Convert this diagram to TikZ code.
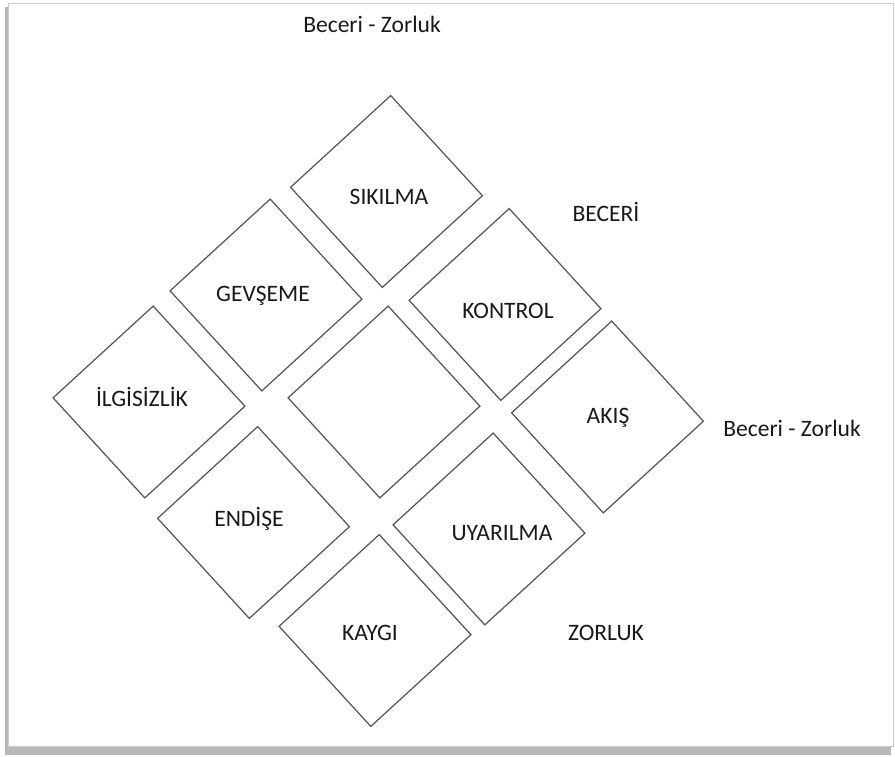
\documentclass[tikz,border=0pt]{standalone}
\usepackage{fontspec}
\setmainfont{Carlito}
\usetikzlibrary{shapes.geometric}
\begin{document}
\begin{tikzpicture}[every node/.style={font=\fontsize{13.4}{16}\selectfont, text=black!90}]
			% Define colors
			\definecolor{edge_grey}{RGB}{85, 85, 85}
			\definecolor{frame_line}{RGB}{205, 205, 205}
			\definecolor{frame_shadow}{RGB}{185, 185, 185}

			% Styles
			\tikzstyle{cell} = [regular polygon, regular polygon sides=4, shape border rotate=42.5, draw=edge_grey, line width=0.7pt, minimum size=3.84cm, inner sep=0pt]
			\tikzstyle{cell_text} = [inner sep=1pt]
			\tikzstyle{axis_text} = [inner sep=1pt]

			\useasboundingbox (0,0) rectangle (17.9,15.12);

			% Frame and its shadow
			\fill[frame_shadow] (0.1,0.02) rectangle (17.82,14.98);
			\draw[frame_line, fill=white] (0.16,0.2) rectangle (17.86,15.06);

			% Diamond cells (3 x 3)
			\node[cell] (ilgisizlik) at (2.98, 7.08) {};
			\node[cell] (gevseme) at (5.32, 9.22) {};
			\node[cell] (sikilma) at (7.73, 11.29) {};
			\node[cell] (endise) at (5.07, 4.67) {};
			\node[cell] (merkez) at (7.68, 7.08) {};
			\node[cell] (kontrol) at (10.10, 9.03) {};
			\node[cell] (kaygi) at (7.50, 2.51) {};
			\node[cell] (uyarilma) at (9.78, 4.54) {};
			\node[cell] (akis) at (12.15, 6.78) {};

			% Cell labels
			\node[cell_text] (ilgisizlik_t) at (2.84, 7.18) {İLGİSİZLİK};
			\node[cell_text] (gevseme_t) at (5.26, 9.20) {GEVŞEME};
			\node[cell_text] (sikilma_t) at (7.78, 11.18) {SIKILMA};
			\node[cell_text] (endise_t) at (4.98, 4.74) {ENDİŞE};
			\node[cell_text] (kontrol_t) at (10.16, 8.90) {KONTROL};
			\node[cell_text] (kaygi_t) at (7.40, 2.46) {KAYGI};
			\node[cell_text] (uyarilma_t) at (10.04, 4.46) {UYARILMA};
			\node[cell_text] (akis_t) at (12.16, 6.76) {AKIŞ};

			% Axis labels
			\node[axis_text] (top_label) at (7.44, 14.64) {Beceri - Zorluk};
			\node[axis_text] (beceri) at (12.12, 10.88) {BECERİ};
			\node[axis_text] (zorluk) at (12.12, 2.46) {ZORLUK};
			\node[axis_text] (right_label) at (15.84, 6.56) {Beceri - Zorluk};

		\end{tikzpicture}
\end{document}
